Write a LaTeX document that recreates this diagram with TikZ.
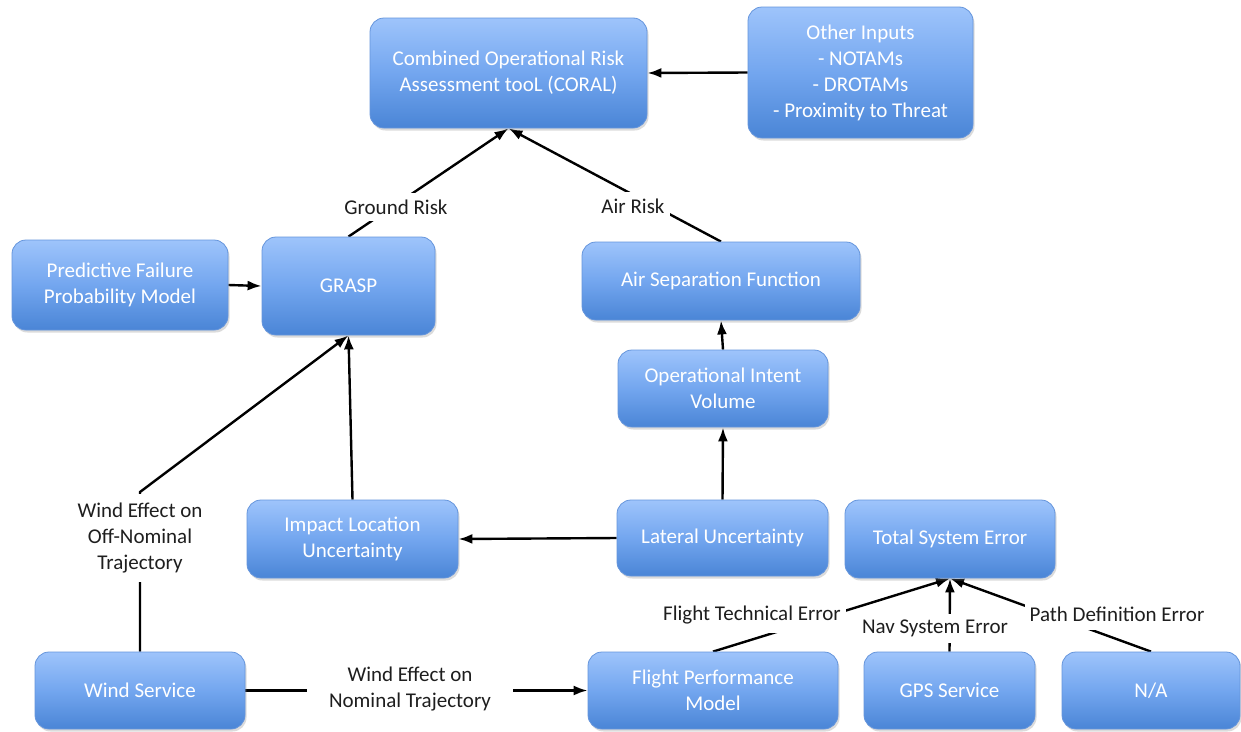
\documentclass[tikz,border=0pt]{standalone}
\usepackage{fontspec}
\setmainfont{Carlito}
\usetikzlibrary{arrows.meta,shadows,backgrounds}
\definecolor{boxtop}{HTML}{9EC4FB}
\definecolor{boxmid}{HTML}{73A6EF}
\definecolor{boxbot}{HTML}{4A85D6}
\definecolor{boxline}{HTML}{6595DC}
\definecolor{labtext}{HTML}{1E1E1E}
\begin{document}
\begin{tikzpicture}[x=1pt,y=-1pt,
  bluebox/.style={rectangle, rounded corners=14pt, draw=boxline, line width=0.8pt,
    top color=boxtop, bottom color=boxbot, middle color=boxmid,
    drop shadow={opacity=0.28, shadow xshift=1.5pt, shadow yshift=-2.5pt},
    text=white, align=center, inner sep=0pt,
    font=\fontsize{21}{26}\selectfont},
  edgelabel/.style={fill=white, text=labtext, align=center, inner sep=5pt,
    font=\fontsize{21}{26}\selectfont},
  conn/.style={line width=2.4pt, draw=black},
  arr/.style={conn, -{Latex[length=14pt,width=10pt]}}
]
\useasboundingbox (0,0) rectangle (1241,731);

% boxes
\node[bluebox, minimum width=277pt, minimum height=110pt] (cor) at (508.5,73) {Combined Operational Risk\\Assessment tooL (CORAL)};
\node[bluebox, minimum width=225pt, minimum height=131pt] (oth) at (860.5,72.5) {Other Inputs\\- NOTAMs\\- DROTAMs\\- Proximity to Threat};
\node[bluebox, minimum width=216pt, minimum height=90pt] (pfp) at (120,285) {Predictive Failure\\Probability Model};
\node[bluebox, minimum width=173pt, minimum height=98pt] (grasp) at (348.5,286) {GRASP};
\node[bluebox, minimum width=278pt, minimum height=78pt] (asf) at (721,281) {Air Separation Function};
\node[bluebox, minimum width=210pt, minimum height=77pt] (oiv) at (723,388.5) {Operational Intent\\Volume};
\node[bluebox, minimum width=211pt, minimum height=78pt] (ilu) at (352.5,539) {Impact Location\\Uncertainty};
\node[bluebox, minimum width=211pt, minimum height=76pt] (lat) at (722.5,538) {Lateral Uncertainty};
\node[bluebox, minimum width=210pt, minimum height=78pt] (tse) at (950,539) {Total System Error};
\node[bluebox, minimum width=210pt, minimum height=77pt] (wind) at (140,690.5) {Wind Service};
\node[bluebox, minimum width=250pt, minimum height=77pt] (fpm) at (713,690.5) {Flight Performance\\Model};
\node[bluebox, minimum width=171pt, minimum height=77pt] (gps) at (949.5,690.5) {GPS Service};
\node[bluebox, minimum width=178pt, minimum height=77pt] (na) at (1151,690.5) {N/A};

% edge labels
\node[edgelabel, inner ysep=7pt] (lgr) at (396,207) {Ground Risk};
\node[edgelabel, inner ysep=7pt] (lar) at (633,206) {Air Risk};
\node[edgelabel, inner ysep=9pt] (lwo) at (140,538) {Wind Effect on\\Off-Nominal\\Trajectory};
\node[edgelabel, inner xsep=22pt] (lwn) at (410,689) {Wind Effect on\\Nominal Trajectory};
\node[edgelabel, inner ysep=9pt] (lfte) at (752,615) {Flight Technical Error};
\node[edgelabel, inner ysep=6pt] (lnse) at (935,628) {Nav System Error};
\node[edgelabel, inner ysep=9pt] (lpde) at (1117,614) {Path Definition Error};

\coordinate (windbend) at (140,492);

% connectors
\begin{scope}[on background layer]
\fill[white] (0,0) rectangle (1241,731);
\draw[arr] (oth.west) -- (cor.east);
\draw[arr] (pfp.east) -- (grasp.west);
\draw[arr] (grasp.north) -- (cor.south);
\draw[arr] (asf.north) -- (cor.south);
\draw[arr] (oiv.north) -- (asf.south);
\draw[arr] (lat.north) -- (oiv.south);
\draw[arr] (lat.west) -- (ilu.east);
\draw[arr] (ilu.north) -- (grasp.south);
\draw[arr] (wind.north) -- (windbend) -- (grasp.south);
\draw[arr] (wind.east) -- (fpm.west);
\draw[arr] (fpm.north) -- (tse.south);
\draw[arr] (gps.north) -- (tse.south);
\draw[arr] (na.north) -- (tse.south);
\end{scope}
\end{tikzpicture}
\end{document}
